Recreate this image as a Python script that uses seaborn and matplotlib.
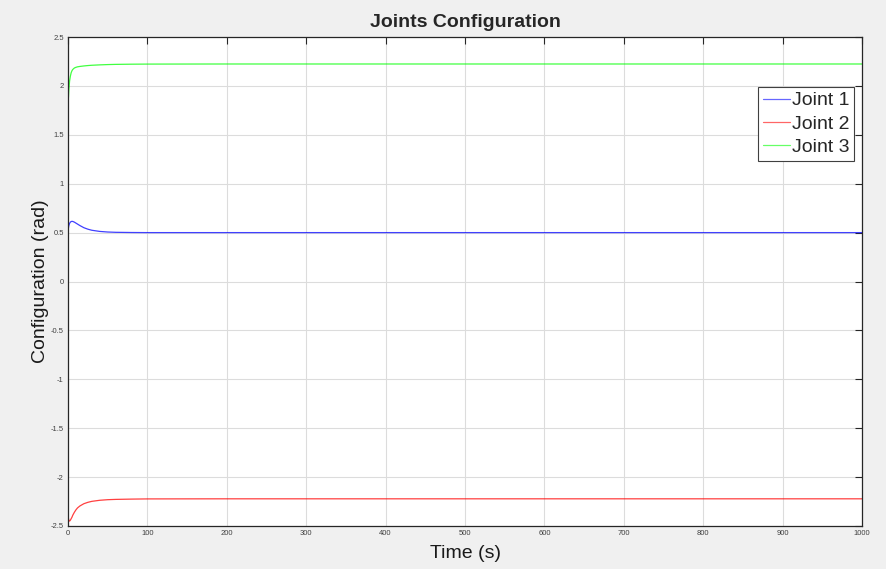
import matplotlib
matplotlib.use("Agg")
import matplotlib.pyplot as plt
import seaborn as sns
import pandas as pd

# Data
time_s = [0, 1, 2, 3, 4, 5, 6, 8, 10, 12, 15, 20, 25, 30, 40, 50, 60, 80, 100, 200, 400, 600, 800, 1000]
joint1 = [0.52, 0.57, 0.595, 0.607, 0.613, 0.615, 0.614, 0.607, 0.597, 0.587, 0.572, 0.550, 0.535, 0.524, 0.512, 0.506, 0.503, 0.501, 0.500, 0.500, 0.500, 0.500, 0.500, 0.500]
joint2 = [-2.40, -2.44, -2.45, -2.44, -2.425, -2.41, -2.39, -2.36, -2.335, -2.315, -2.295, -2.272, -2.258, -2.248, -2.237, -2.231, -2.228, -2.225, -2.223, -2.222, -2.222, -2.222, -2.222, -2.222]
joint3 = [1.80, 1.95, 2.05, 2.10, 2.135, 2.155, 2.168, 2.183, 2.19, 2.195, 2.199, 2.204, 2.208, 2.211, 2.215, 2.218, 2.220, 2.222, 2.223, 2.224, 2.224, 2.224, 2.224, 2.224]
series_names = ["Joint 1", "Joint 2", "Joint 3"]
series_colors = ["#0000ff", "#ff0000", "#00ff00"]
x_ticks = [0, 100, 200, 300, 400, 500, 600, 700, 800, 900, 1000]
y_ticks = [-2.5, -2, -1.5, -1, -0.5, 0, 0.5, 1, 1.5, 2, 2.5]

df = pd.DataFrame({"t": time_s * 3,
                   "v": joint1 + joint2 + joint3,
                   "joint": [series_names[0]] * len(time_s) + [series_names[1]] * len(time_s) + [series_names[2]] * len(time_s)})

sns.set_style("white")
plt.rcParams['font.family'] = ['Liberation Sans', 'DejaVu Sans']

fig = plt.figure(figsize=(8.86, 5.69), dpi=100, facecolor="#f0f0f0")
ax = fig.add_axes([68/886, 43/569, 794/886, 489/569])
ax.set_facecolor("white")

sns.lineplot(data=df, x="t", y="v", hue="joint", palette=dict(zip(series_names, series_colors)),
             linewidth=0.9, alpha=0.75, ax=ax, legend=True)

ax.set_xlim(0, 1000)
ax.set_ylim(-2.5, 2.5)
ax.set_xticks(x_ticks)
ax.set_yticks(y_ticks)
ax.set_xticklabels([str(v) for v in x_ticks])
ax.set_yticklabels([("%g" % v) for v in y_ticks])
ax.tick_params(direction="in", length=5, width=0.8, top=True, right=True,
               labelsize=5.5, labelcolor="#404040", color="#262626", pad=3)
ax.grid(True, color="#dcdcdc", linewidth=0.8)
for s in ax.spines.values():
    s.set_color("#262626")
    s.set_linewidth(0.9)

ax.set_xlabel("Time (s)", fontsize=14, color="#1a1a1a", labelpad=6)
ax.set_ylabel("Configuration (rad)", fontsize=14, color="#1a1a1a", labelpad=1)
ax.set_title("Joints Configuration", fontsize=14, fontweight="bold", pad=7)

leg = ax.legend(loc="upper right", bbox_to_anchor=(0.99, 0.898), fontsize=14, frameon=True,
                fancybox=False, edgecolor="#404040", framealpha=1, handlelength=1.4,
                handletextpad=0.1, borderpad=0.25, labelspacing=0.3, borderaxespad=0)
leg.get_frame().set_linewidth(0.8)
for line, c in zip(leg.get_lines(), series_colors):
    line.set_linewidth(0.9)
    line.set_color(c)
    line.set_alpha(0.6)

fig.savefig("out.png", dpi=100, facecolor=fig.get_facecolor())
